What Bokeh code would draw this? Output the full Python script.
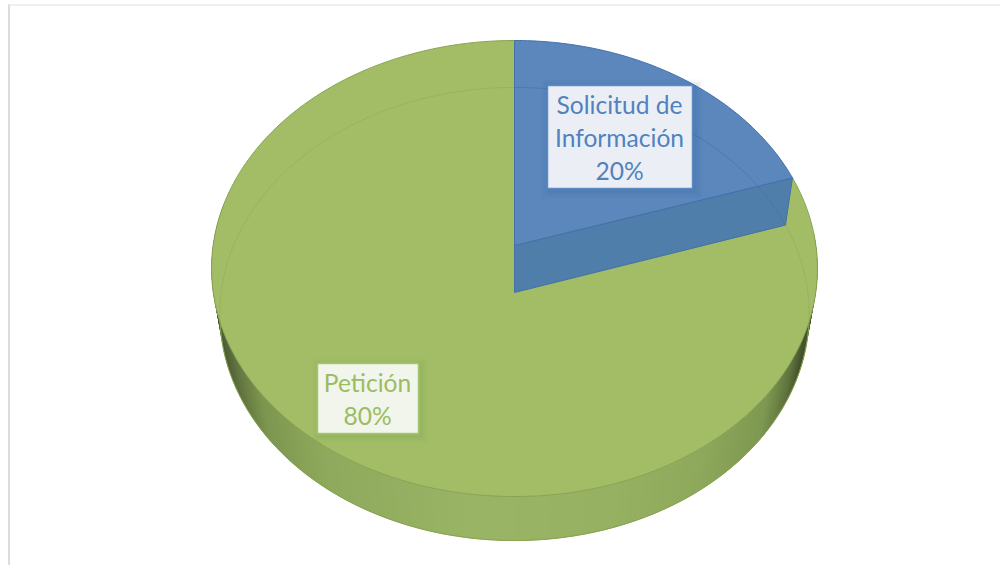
import numpy as np
from bokeh.plotting import figure
from bokeh.models import Range1d
from bokeh.core.properties import value
from bokeh.embed import file_html
from bokeh.resources import INLINE

categories = ["Solicitud de Información", "Petición"]
shares = [20, 80]
label_lines = [["Solicitud de", "Información", "20%"], ["Petición", "80%"]]
slice_colors = ["#5b87bd", "#a3bd67"]
edge_colors = ["#4472a8", "#86a552"]
text_colors = ["#5182bf", "#9cbc5f"]
box_fills = ["#ebeff5", "#f1f5ec"]
box_edges = ["#5b8bc5", "#a6c56f"]
wall_blue = "#4f7eaa"
wall_ramp_x = [211, 225, 245, 270, 330, 480, 620, 700, 760, 785, 797, 817]
wall_ramp_rgb = [(70, 82, 48), (76, 88, 52), (100, 118, 66), (125, 150, 80), (143, 170, 92),
                 (154, 181, 102), (150, 177, 98), (142, 169, 91), (126, 153, 81),
                 (95, 114, 62), (70, 84, 46), (70, 82, 48)]

W, H = 1000, 565
TOP = dict(cx=514.0, cy=245.0, A=301.4, B=225.7, k=0.1009)
BOT = dict(cx=514.0, cy=292.0, A=293.3, B=224.5, k=0.0949)


def project(g, theta):
    """Clockwise angle from 12 o'clock -> screen position on a perspective disc."""
    X, Y = np.sin(theta), np.cos(theta)
    w = 1 + g["k"] * Y
    return g["cx"] + g["A"] * X / w, g["cy"] - g["B"] * Y / w


boundary = np.cumsum([0] + shares) / sum(shares) * 2 * np.pi

p = figure(width=W, height=H, output_backend="svg", toolbar_location=None,
           x_range=Range1d(0, W), y_range=Range1d(H, 0), min_border=0,
           background_fill_color="white", border_fill_color="white", outline_line_color=None)
p.axis.visible = False
p.grid.visible = False

# frame of the pasted picture
p.line([8.5, 8.5], [4, H], line_color="#dcdcdc", line_width=2)
p.line([8, W], [4.5, 4.5], line_color="#e2e2e2", line_width=1)

# outer side wall, as overlapping strips shaded by screen position
ts = np.linspace(np.pi * 0.48, np.pi * 1.56, 221)
end = ts[-1]
for t0, t1 in zip(ts[:-1], ts[1:]):
    tt = np.linspace(t0, min(t1 + 0.03, end), 4)
    xu, yu = project(TOP, tt)
    xl, yl = project(BOT, tt)
    xm = float(np.mean(project(BOT, np.array([t0]))[0]))
    rgb = [int(np.interp(xm, wall_ramp_x, [c[i] for c in wall_ramp_rgb])) for i in range(3)]
    col = "#%02x%02x%02x" % tuple(rgb)
    p.patch(np.r_[xu, xl[::-1]], np.r_[yu, yl[::-1]], fill_color=col, line_color=None)

# thin rim on the wall's outer silhouette
tr = np.linspace(np.pi * 0.48, np.pi * 1.56, 240)
xr, yr = project(BOT, tr)
p.line(xr, yr, line_color="#86a552", line_width=1)

# green slice top
t_g = np.linspace(boundary[1], boundary[2], 400)
xg, yg = project(TOP, t_g)
apex_t = (TOP["cx"], TOP["cy"])
apex_b = (BOT["cx"], BOT["cy"])
p.patch(np.r_[apex_t[0], xg], np.r_[apex_t[1], yg], fill_color=slice_colors[1],
        line_color=edge_colors[1], line_width=1)

# faint far rim seen through the translucent top, on the green part
ring = np.linspace(boundary[1], boundary[2], 400)
xi, yi = project(BOT, ring)
p.line(xi, yi, line_color="#86a552", line_width=1, line_alpha=0.4)

# blue slice inner wall
t_b = np.linspace(boundary[0], boundary[1], 80)
xb, yb = project(TOP, t_b)
xbl, ybl = project(BOT, t_b)
p.patch([apex_t[0], xb[-1], xbl[-1], apex_b[0]], [apex_t[1], yb[-1], ybl[-1], apex_b[1]],
        fill_color=wall_blue, line_color=edge_colors[0], line_width=1)

# blue slice top
p.patch(np.r_[apex_t[0], xb], np.r_[apex_t[1], yb], fill_color=slice_colors[0],
        line_color=edge_colors[0], line_width=1)
p.line(xbl, ybl, line_color=edge_colors[0], line_width=1, line_alpha=0.6)

# data labels
box_l = [547, 317]
box_r = [692, 418]
box_t = [85, 363]
box_b = [188, 433]
first_y = [104, 381.5]
line_h = 33
for i in range(2):
    for g, a in ((8, .035), (6, .05), (4, .06), (2, .08)):
        p.quad(left=box_l[i] - g + 2, right=box_r[i] + g + 2, top=box_t[i] - g + 2, bottom=box_b[i] + g + 2,
               fill_color="#7f9c48" if i else "#2f5f9a", fill_alpha=a, line_color=None)
    p.quad(left=box_l[i], right=box_r[i], top=box_t[i], bottom=box_b[i],
           fill_color=box_fills[i], line_color=box_edges[i], line_width=1.5)
    cx = (box_l[i] + box_r[i]) / 2 - 0.5
    ys = [first_y[i] + j * line_h for j in range(len(label_lines[i]))]
    p.text(x=[cx] * len(ys), y=ys, text=label_lines[i], text_font=value("Lato"),
           text_font_size="24.6px", text_color=text_colors[i], text_align="center", text_baseline="middle")

open("out.html", "w").write(file_html(p, INLINE))
